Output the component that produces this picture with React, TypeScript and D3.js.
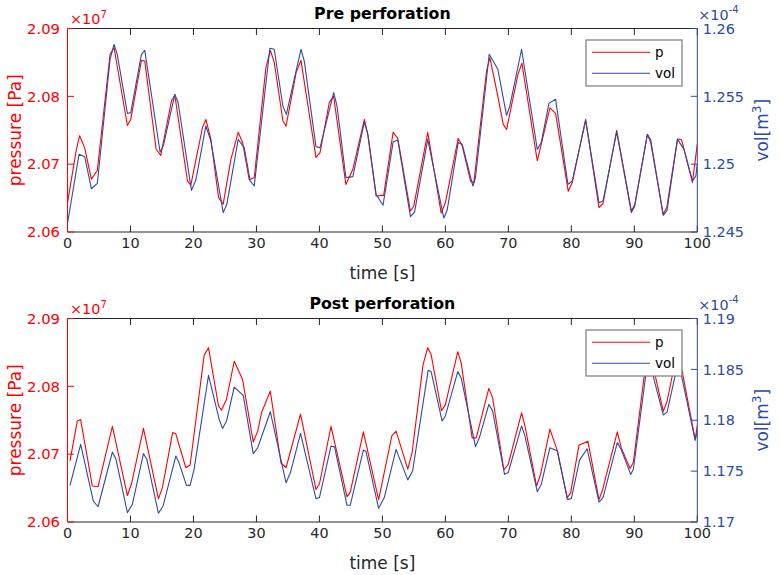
import React from "react";
import * as d3 from "d3";

// ---------- data (pressure in 1e7 Pa, volume in 1e-4 m^3) ----------
const preTimeP = [0, 1.4, 1.93, 2.73, 3.79, 4.74, 6.76, 7.39, 9.51, 10.04, 11.74, 12.27, 14.07, 14.81, 16.5, 17.04, 19.05, 19.58, 21.43, 21.97, 22.76, 23.98, 24.72, 25.94, 27.1, 27.8, 28.85, 29.65, 31.5, 32.2, 32.83, 34.2, 34.7, 36.3, 37.07, 39.45, 40.1, 41.57, 42.26, 44.2, 45.3, 47.14, 47.7, 49.0, 50.2, 51.7, 52.44, 54.45, 54.98, 57.2, 59.33, 60.0, 62.03, 62.67, 64.0, 64.52, 66.53, 67.06, 68.33, 69.18, 69.71, 71.51, 72.15, 74.59, 76.6, 77.5, 79.51, 80.15, 82.27, 84.39, 85.03, 87.2, 89.53, 90.06, 92.07, 92.6, 94.57, 95.15, 96.85, 97.5, 99.23, 100];
const prePressure = [2.0643, 2.0721, 2.0742, 2.0724, 2.0678, 2.0691, 2.0862, 2.0872, 2.0757, 2.0766, 2.0853, 2.0852, 2.0722, 2.0713, 2.0793, 2.0802, 2.0675, 2.0669, 2.0754, 2.0766, 2.0737, 2.0651, 2.0641, 2.0707, 2.0747, 2.0732, 2.0677, 2.068, 2.0842, 2.0868, 2.085, 2.0764, 2.0756, 2.0835, 2.0853, 2.071, 2.0717, 2.0791, 2.08, 2.067, 2.0692, 2.0766, 2.0742, 2.0653, 2.0654, 2.0747, 2.0738, 2.0631, 2.0638, 2.0747, 2.0628, 2.0643, 2.0738, 2.0727, 2.0675, 2.0673, 2.0837, 2.0857, 2.08, 2.0759, 2.0751, 2.0832, 2.0849, 2.0705, 2.0783, 2.0775, 2.066, 2.0673, 2.0766, 2.0636, 2.0642, 2.075, 2.0631, 2.064, 2.0744, 2.0732, 2.0626, 2.0636, 2.0737, 2.0736, 2.0673, 2.073];

const preTimeV = [0, 1.83, 2.73, 3.79, 4.74, 6.76, 7.39, 7.9, 9.51, 10.04, 11.74, 12.27, 14.7, 15.24, 17.04, 17.57, 19.68, 20.38, 21.97, 22.76, 24.72, 25.3, 27.1, 28.06, 29.01, 29.65, 32.14, 32.83, 34.2, 34.75, 37.07, 37.6, 39.45, 40.1, 42.26, 42.8, 44.2, 45.3, 47.14, 47.7, 49.0, 50.1, 51.7, 52.44, 54.45, 55.1, 57.2, 59.75, 60.28, 62.03, 62.67, 64.36, 64.78, 66.96, 68.33, 69.71, 70.24, 72.1, 74.59, 75.22, 76.44, 77.5, 79.46, 80.15, 82.27, 84.39, 85.03, 87.2, 89.53, 90.06, 92.07, 92.6, 94.6, 95.2, 96.85, 97.9, 99.23, 99.76, 100];
const preVolume = [1.24564, 1.25073, 1.25055, 1.24819, 1.24859, 1.25772, 1.25883, 1.25809, 1.25374, 1.2538, 1.25809, 1.25839, 1.2509, 1.25139, 1.25515, 1.25453, 1.24807, 1.24883, 1.25282, 1.25171, 1.24643, 1.24704, 1.25183, 1.25122, 1.24876, 1.24839, 1.25854, 1.25847, 1.25428, 1.25367, 1.25847, 1.2576, 1.25129, 1.25122, 1.25527, 1.25428, 1.24901, 1.24908, 1.25311, 1.2522, 1.24777, 1.24697, 1.25163, 1.25178, 1.24613, 1.24647, 1.25183, 1.24603, 1.2466, 1.25159, 1.25147, 1.24839, 1.249, 1.2581, 1.25699, 1.2536, 1.25429, 1.25847, 1.25109, 1.25159, 1.25448, 1.25478, 1.24851, 1.24876, 1.25323, 1.24716, 1.24728, 1.25237, 1.24643, 1.2469, 1.2522, 1.2518, 1.24623, 1.2466, 1.25183, 1.25109, 1.24876, 1.24912, 1.24998];

const postTimeP = [0.4, 1.56, 2.09, 3.95, 4.85, 7.13, 9.51, 10.15, 12.06, 14.44, 15.08, 16.7, 17.2, 18.79, 19.47, 21.7, 22.39, 23.98, 24.46, 25.25, 26.47, 27.8, 29.49, 30.2, 30.8, 32.2, 33.9, 34.7, 37.0, 39.45, 40.0, 41.84, 44.38, 44.9, 46.98, 49.4, 51.5, 52.17, 54.03, 54.71, 56.46, 57.2, 57.73, 59.38, 60.0, 61.97, 62.5, 64.25, 64.9, 66.9, 67.5, 69.29, 69.98, 72.1, 72.63, 74.48, 75.1, 76.6, 77.7, 79.36, 79.89, 81.2, 82.64, 84.39, 84.92, 87.3, 87.9, 89.32, 89.85, 92.2, 94.6, 95.2, 96.9, 97.6, 99.66, 100];
const postPressure = [2.069, 2.0749, 2.0751, 2.0653, 2.0652, 2.0741, 2.0639, 2.0656, 2.0738, 2.0634, 2.0651, 2.0732, 2.073, 2.068, 2.0684, 2.0846, 2.0857, 2.0771, 2.0765, 2.0781, 2.0837, 2.081, 2.0718, 2.0734, 2.0761, 2.0793, 2.0687, 2.068, 2.0759, 2.0648, 2.0656, 2.0741, 2.0637, 2.0644, 2.0733, 2.0633, 2.0727, 2.0734, 2.0678, 2.0702, 2.0832, 2.0857, 2.0847, 2.0764, 2.0773, 2.0851, 2.0835, 2.0724, 2.0724, 2.0797, 2.0783, 2.0677, 2.0685, 2.0761, 2.0742, 2.0653, 2.067, 2.0737, 2.0707, 2.0636, 2.0643, 2.0713, 2.0719, 2.0633, 2.0646, 2.0733, 2.071, 2.0679, 2.0688, 2.0862, 2.0763, 2.0778, 2.0855, 2.0822, 2.0722, 2.0742];

const postTimeV = [0.4, 2.09, 4.1, 4.85, 7.13, 7.7, 9.51, 10.3, 12.06, 12.6, 14.44, 15.18, 17.2, 17.7, 18.89, 19.47, 20.1, 22.39, 24.08, 24.62, 25.25, 26.47, 27.9, 29.49, 30.2, 32.2, 34.7, 35.4, 37.0, 39.45, 40.0, 41.84, 42.4, 44.38, 44.9, 46.98, 47.4, 49.4, 50.3, 52.17, 54.03, 54.8, 57.26, 57.73, 59.48, 60.0, 61.97, 62.5, 64.78, 65.4, 66.9, 67.5, 69.39, 69.98, 72.1, 72.63, 74.59, 75.22, 76.6, 77.8, 79.36, 80.0, 81.3, 82.5, 84.39, 85.03, 87.3, 87.9, 89.43, 89.85, 92.2, 94.6, 95.2, 97.0, 99.66, 100];
const postVolume = [1.1736, 1.17764, 1.17206, 1.1715, 1.17688, 1.17616, 1.17092, 1.17174, 1.17672, 1.17616, 1.17086, 1.17158, 1.17648, 1.17584, 1.1736, 1.1736, 1.17518, 1.18442, 1.18008, 1.1792, 1.17992, 1.18326, 1.18244, 1.17672, 1.1773, 1.18084, 1.17386, 1.17486, 1.17872, 1.1723, 1.1724, 1.17746, 1.17738, 1.17164, 1.17166, 1.17708, 1.17692, 1.17134, 1.1724, 1.17714, 1.17414, 1.17502, 1.1849, 1.1848, 1.17992, 1.18042, 1.18478, 1.18418, 1.1774, 1.1783, 1.18156, 1.1809, 1.17468, 1.17486, 1.17944, 1.17846, 1.17298, 1.1737, 1.1773, 1.17698, 1.17222, 1.1723, 1.17608, 1.1772, 1.17196, 1.1724, 1.1778, 1.17714, 1.17468, 1.17518, 1.1862, 1.18052, 1.1808, 1.1858, 1.17802, 1.17894];

const xTicks = [0, 10, 20, 30, 40, 50, 60, 70, 80, 90, 100];
const pressureTicks = [2.06, 2.07, 2.08, 2.09];
const preVolTicks = [1.245, 1.25, 1.255, 1.26];
const postVolTicks = [1.17, 1.175, 1.18, 1.185, 1.19];
const seriesNames = ["p", "vol"];
const titles = ["Pre perforation", "Post perforation"];

// ---------- styling ----------
const RED = "#ff0000";
const BLUE = "#2d4aa6";
const DARK = "#262626";
const FONT = "DejaVu Sans, Liberation Sans, sans-serif";
const L = 67.5;
const R = 697.3;
const PH = 203.5;
const TICK = 6.5;
const LABEL_SIZE = 17;

type PanelProps = {
  top: number;
  title: string;
  tP: number[];
  vP: number[];
  tV: number[];
  vV: number[];
  volDomain: [number, number];
  volTicks: number[];
  id: string;
};

function Panel({ top, title, tP, vP, tV, vV, volDomain, volTicks, id }: PanelProps) {
  const bottom = top + PH;
  const x = d3.scaleLinear().domain([0, 100]).range([L, R]);
  const yP = d3.scaleLinear().domain([2.06, 2.09]).range([bottom, top]);
  const yV = d3.scaleLinear().domain(volDomain).range([bottom, top]);
  const pData = tP.map((t, i) => [t, vP[i]] as [number, number]);
  const vData = tV.map((t, i) => [t, vV[i]] as [number, number]);
  const lineP = d3.line<[number, number]>().x((d) => x(d[0])).y((d) => yP(d[1]));
  const lineV = d3.line<[number, number]>().x((d) => x(d[0])).y((d) => yV(d[1]));
  const fmtP = d3.format(".2f");
  const fmtV = d3.format(".4~g");
  const cy = (top + bottom) / 2;
  const legX = 586, legY = top + 11.5, legW = 96, legH = 46;

  return (
    <g>
      <defs>
        <clipPath id={id}>
          <rect x={L} y={top} width={R - L} height={PH} />
        </clipPath>
      </defs>
      <rect x={L} y={top} width={R - L} height={PH} fill="white" />
      {/* data */}
      <g clipPath={`url(#${id})`}>
        <path d={lineP(pData) || ""} fill="none" stroke={RED} strokeWidth={1.1} strokeLinejoin="round" />
        <path d={lineV(vData) || ""} fill="none" stroke={BLUE} strokeWidth={1.1} strokeLinejoin="round" />
      </g>
      {/* x axis top and bottom */}
      <line x1={L} x2={R} y1={top} y2={top} stroke={DARK} strokeWidth={1} />
      <line x1={L} x2={R} y1={bottom} y2={bottom} stroke={DARK} strokeWidth={1} />
      {xTicks.map((t) => (
        <g key={t}>
          <line x1={x(t)} x2={x(t)} y1={bottom} y2={bottom - TICK} stroke={DARK} />
          <line x1={x(t)} x2={x(t)} y1={top} y2={top + TICK} stroke={DARK} />
          <text x={x(t)} y={bottom + 15.5} textAnchor="middle" fontSize={14.4} fill={DARK} fontFamily={FONT}>
            {t}
          </text>
        </g>
      ))}
      {/* left axis */}
      <line x1={L} x2={L} y1={top} y2={bottom} stroke={RED} strokeWidth={1} />
      {pressureTicks.map((v) => (
        <g key={v}>
          <line x1={L} x2={L + TICK} y1={yP(v)} y2={yP(v)} stroke={RED} />
          <text x={L - 7.5} y={yP(v) + 5.2} textAnchor="end" fontSize={14.8} fill={RED} fontFamily={FONT}>
            {fmtP(v)}
          </text>
        </g>
      ))}
      <text x={L + 2.5} y={top - 4.5} fontSize={14.4} fill={RED} fontFamily={FONT}>
        ×10
        <tspan fontSize={10} dy={-6.5}>7</tspan>
      </text>
      {/* right axis */}
      <line x1={R} x2={R} y1={top} y2={bottom} stroke={BLUE} strokeWidth={1} />
      {volTicks.map((v) => (
        <g key={v}>
          <line x1={R} x2={R - TICK} y1={yV(v)} y2={yV(v)} stroke={BLUE} />
          <text x={R + 5.5} y={yV(v) + 5.2} textAnchor="start" fontSize={14.4} fill={BLUE} fontFamily={FONT}>
            {fmtV(v)}
          </text>
        </g>
      ))}
      <text x={R + 1} y={top - 9} fontSize={14.4} fill={BLUE} fontFamily={FONT}>
        ×10
        <tspan fontSize={10} dy={-6.5}>-4</tspan>
      </text>
      {/* labels */}
      <text x={(L + R) / 2} y={top - 9.5} textAnchor="middle" fontSize={15.8} fontWeight="bold" fill="#000" fontFamily={FONT}>
        {title}
      </text>
      <text x={(L + R) / 2} y={bottom + 46.5} textAnchor="middle" fontSize={LABEL_SIZE} fill={DARK} fontFamily={FONT}>
        time [s]
      </text>
      <text transform={`translate(21,${cy}) rotate(-90)`} textAnchor="middle" fontSize={LABEL_SIZE} fill={RED} fontFamily={FONT}>
        pressure [Pa]
      </text>
      <text transform={`translate(768,${cy}) rotate(-90)`} textAnchor="middle" fontSize={LABEL_SIZE} fill={BLUE} fontFamily={FONT}>
        vol[m<tspan fontSize={12} dy={-7.5}>3</tspan>
        <tspan dy={7.5}>]</tspan>
      </text>
      {/* legend */}
      <rect x={legX} y={legY} width={legW} height={legH} fill="white" stroke="#7a7a7a" strokeWidth={1.2} />
      {seriesNames.map((n, i) => (
        <g key={n}>
          <line x1={legX + 6} x2={legX + 64} y1={legY + 12.3 + i * 21} y2={legY + 12.3 + i * 21} stroke={i === 0 ? RED : BLUE} strokeWidth={1.1} />
          <text x={legX + 69} y={legY + 16.8 + i * 21} fontSize={13.5} fill="#000" fontFamily={FONT}>
            {n}
          </text>
        </g>
      ))}
    </g>
  );
}

export default function App() {
  return (
    <svg width={781} height={575} style={{ position: "absolute", left: 0, top: 0, background: "white" }}>
      <rect x={0} y={0} width={781} height={575} fill="white" />
      <Panel top={28.5} title={titles[0]} tP={preTimeP} vP={prePressure} tV={preTimeV} vV={preVolume} volDomain={[1.245, 1.26]} volTicks={preVolTicks} id="clipPre" />
      <Panel top={318.5} title={titles[1]} tP={postTimeP} vP={postPressure} tV={postTimeV} vV={postVolume} volDomain={[1.17, 1.19]} volTicks={postVolTicks} id="clipPost" />
    </svg>
  );
}
